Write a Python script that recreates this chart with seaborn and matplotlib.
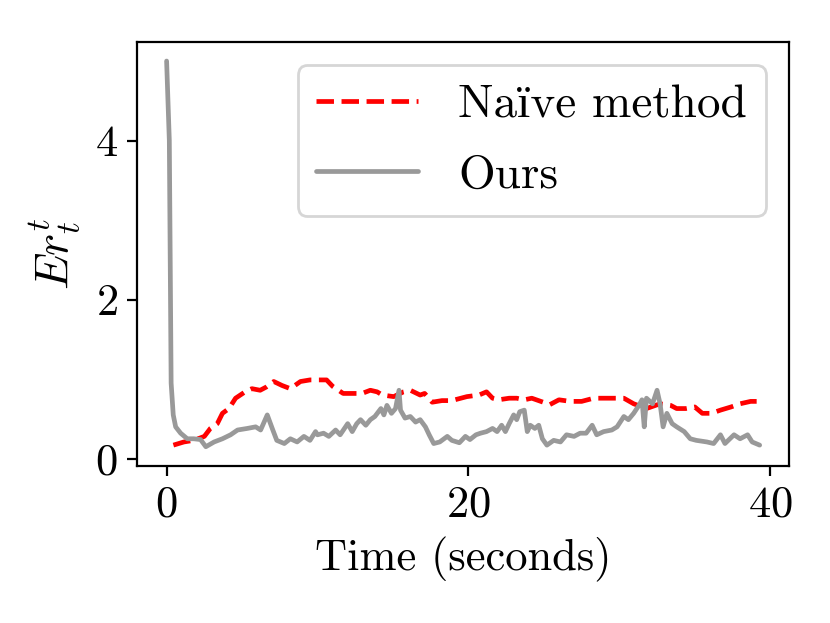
import numpy as np
import pandas as pd
import matplotlib
matplotlib.use("Agg")
import matplotlib.pyplot as plt
import seaborn as sns

# error over time
ours_t = [0.0, 0.18, 0.3, 0.44, 0.6, 0.93, 1.37, 1.8, 2.25, 2.6, 3.15, 3.7, 4.24,
          4.7, 5.35, 5.9, 6.23, 6.67, 7.0, 7.3, 7.8, 8.2, 8.65, 9.1, 9.5, 9.87,
          10.0, 10.4, 10.75, 11.2, 11.5, 12.0, 12.3, 12.6, 12.85, 13.2, 13.5,
          13.8, 14.2, 14.4, 14.6, 14.9, 15.17, 15.4, 15.5, 15.8, 16.15, 16.5,
          16.8, 17.15, 17.4, 17.7, 18.1, 18.6, 18.9, 19.4, 19.8, 20.1, 20.5,
          20.8, 21.2, 21.6, 21.9, 22.2, 22.45, 22.7, 23.0, 23.2, 23.4, 23.7,
          23.9, 24.1, 24.4, 24.66, 24.9, 25.2, 25.65, 26.1, 26.5, 27.0, 27.4,
          27.8, 28.2, 28.5, 28.96, 29.5, 29.85, 30.3, 30.6, 30.95, 31.3, 31.5,
          31.65, 31.8, 32.2, 32.5, 32.7, 32.9, 33.15, 33.5, 33.8, 34.3, 34.7,
          35.1, 35.8, 36.25, 36.7, 37.0, 37.6, 38.0, 38.5, 38.8, 39.3]
ours_err = [5.0, 4.0, 0.95, 0.55, 0.40, 0.32, 0.25, 0.25, 0.24, 0.15, 0.21, 0.25,
            0.30, 0.36, 0.38, 0.40, 0.36, 0.55, 0.38, 0.23, 0.19, 0.25, 0.21,
            0.28, 0.23, 0.34, 0.30, 0.32, 0.28, 0.36, 0.30, 0.44, 0.34, 0.44,
            0.49, 0.42, 0.49, 0.53, 0.63, 0.55, 0.67, 0.57, 0.63, 0.86, 0.61,
            0.51, 0.53, 0.46, 0.49, 0.40, 0.30, 0.19, 0.21, 0.28, 0.23, 0.20,
            0.28, 0.24, 0.30, 0.32, 0.34, 0.38, 0.34, 0.42, 0.34, 0.44, 0.55,
            0.49, 0.59, 0.61, 0.34, 0.42, 0.38, 0.42, 0.25, 0.17, 0.23, 0.21,
            0.30, 0.28, 0.32, 0.32, 0.42, 0.30, 0.34, 0.36, 0.40, 0.53, 0.49,
            0.57, 0.67, 0.74, 0.40, 0.76, 0.69, 0.86, 0.69, 0.40, 0.57, 0.44,
            0.40, 0.34, 0.25, 0.23, 0.21, 0.19, 0.30, 0.19, 0.30, 0.25, 0.30,
            0.21, 0.17]

naive_t = [0.45, 1.15, 1.8, 2.5, 2.9, 3.36, 3.7, 4.13, 4.57, 5.2, 5.65, 6.2,
           6.6, 7.1, 7.65, 8.2, 8.87, 9.5, 10.2, 10.6, 11.0, 11.7, 12.3, 12.95,
           13.5, 13.95, 14.3, 15.05, 15.7, 16.15, 16.8, 17.1, 17.6, 18.25,
           18.9, 19.3, 19.9, 20.7, 21.2, 21.6, 22.0, 22.7, 23.2, 23.7, 24.2,
           24.8, 25.4, 26.0, 26.75, 27.5, 28.3, 29.1, 29.7, 30.3, 30.95, 31.8,
           32.7, 33.4, 33.8, 34.4, 35.0, 35.5, 36.1, 36.7, 37.4, 38.0, 38.7,
           39.1]
naive_err = [0.17, 0.21, 0.23, 0.28, 0.38, 0.44, 0.57, 0.63, 0.76, 0.84, 0.88,
             0.86, 0.90, 0.97, 0.92, 0.88, 0.97, 0.99, 0.99, 0.99, 0.91, 0.82,
             0.82, 0.82, 0.86, 0.84, 0.80, 0.78, 0.84, 0.86, 0.80, 0.82, 0.71,
             0.73, 0.73, 0.75, 0.78, 0.80, 0.84, 0.76, 0.74, 0.76, 0.76, 0.74,
             0.76, 0.72, 0.68, 0.74, 0.72, 0.72, 0.76, 0.76, 0.76, 0.76, 0.69,
             0.63, 0.69, 0.67, 0.63, 0.63, 0.65, 0.57, 0.57, 0.61, 0.65, 0.69,
             0.72, 0.72]

naive_df = pd.DataFrame({"time": naive_t, "err": naive_err})
ours_df = pd.DataFrame({"time": ours_t, "err": ours_err})

sns.set_style("ticks")
plt.rcParams["font.family"] = ["cmr10", "Liberation Serif"]
plt.rcParams["mathtext.fontset"] = "cm"
plt.rcParams["axes.formatter.use_mathtext"] = True
plt.rcParams["axes.unicode_minus"] = False
for key in ["text.color", "axes.labelcolor", "xtick.color", "ytick.color",
            "axes.edgecolor"]:
    plt.rcParams[key] = "black"

fig, ax = plt.subplots(figsize=(4.15, 3.115), dpi=200)
fig.subplots_adjust(left=0.165, right=0.951, top=0.933, bottom=0.252)

sns.lineplot(data=naive_df, x="time", y="err", ax=ax, color="red",
             linestyle="--", linewidth=1.7, label="Na\u00efve method")
sns.lineplot(data=ours_df, x="time", y="err", ax=ax, color="#999999",
             linewidth=1.7, label="Ours")

ax.set_xticks([0, 20, 40])
ax.set_yticks([0, 2, 4])
ax.tick_params(labelsize=16, length=3.5, width=0.8, colors="black")
for s in ax.spines.values():
    s.set_color("black")
    s.set_linewidth(0.8)
ax.set_xlabel("Time (seconds)", fontsize=16)
ax.set_ylabel(r"$Er_t^t$", fontsize=17)
ax.legend(loc="upper right", fontsize=17, handlelength=2.15,
          handletextpad=0.85, labelspacing=0.6)

fig.savefig("out.png", dpi=200)
